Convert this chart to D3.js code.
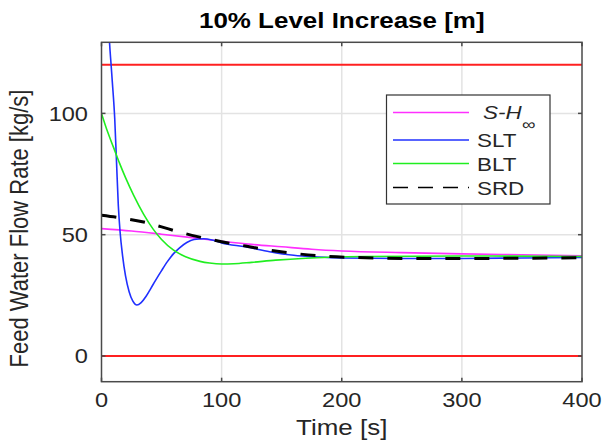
<!DOCTYPE html>
<html>
<head>
<meta charset="utf-8">
<script src="https://cdn.jsdelivr.net/npm/d3@7"></script>
<style>
  html, body { margin: 0; padding: 0; background: #fff; }
  svg { display: block; font-family: "Liberation Sans", Arial, sans-serif; }
</style>
</head>
<body>
<svg class="canvas" width="609" height="444"></svg>
<script>
"use strict";

// values: [time s, flow kg/s]
const shInf = [[0, 52.5], [25, 51.5], [50, 50.2], [75, 48.8], [100, 47.3], [125, 46], [150, 45],
  [175, 44], [200, 43.3], [250, 42.6], [300, 42.1], [350, 41.7], [400, 41.3]];
const slt = [[0, 260], [5, 150], [6.6, 130], [8, 120], [9, 113], [11, 98], [12.5, 80], [14, 62],
  [15.5, 51], [17.5, 41.5], [20, 33], [23, 26.5], [26, 22.7], [29.5, 21], [33, 22], [37, 24.5],
  [41, 27.8], [45, 31.2], [50, 35.2], [55, 39], [60, 42.2], [65, 44.6], [71, 46.8], [77, 48],
  [85, 48.3], [92, 47.8], [100, 46.6], [120, 45], [140, 43], [160, 41.5], [180, 40.8],
  [200, 40.4], [250, 40.2], [300, 40.2], [350, 40.4], [400, 40.6]];
const blt = [[0, 100], [5, 92.5], [10, 86], [15, 79.5], [20, 73.5], [27, 66], [35, 58.5],
  [43, 52.3], [50, 48], [60, 43.6], [70, 40.9], [82, 39], [90, 38.3], [100, 37.9], [110, 38],
  [125, 38.6], [145, 39.5], [170, 40.3], [190, 40.7], [220, 41], [300, 41.2], [400, 41]];
const srd = [[0, 58], [20, 56.6], [37, 55], [50, 53.2], [64, 51.2], [80, 49.2], [100, 47.1],
  [120, 45.3], [139, 43.7], [160, 42.3], [189, 41], [220, 40.5], [260, 40.2], [300, 40.2],
  [350, 40.3], [400, 40.5]];
const limits = [120, 0];
const xTicks = [0, 100, 200, 300, 400];
const yTicks = [0, 50, 100];
const seriesNames = ["SLT", "BLT", "SRD"];

const SX = 1.18; // the reference text is a little wider than tall

function stretchText(g, x, y, str, size, anchor) {
  return g.append("text")
    .attr("transform", `translate(${x},${y}) scale(${SX},1)`)
    .attr("text-anchor", anchor || "start")
    .attr("font-size", size)
    .attr("fill", "#262626")
    .text(str);
}

function render() {
  const svg = d3.select(".canvas");
  const x = d3.scaleLinear().domain([0, 400]).range([101.5, 582]);
  const y = d3.scaleLinear().domain([-10.6, 129.3]).range([381.7, 42.3]);
  const [x0, x1] = x.range();
  const [yb, yt] = y.range();

  svg.append("defs").append("clipPath").attr("id", "plot")
    .append("rect").attr("x", x0).attr("y", yt).attr("width", x1 - x0).attr("height", yb - yt);

  // grid
  const grid = svg.append("g").attr("stroke", "#e3e3e3").attr("stroke-width", 1.5);
  grid.selectAll(".gx").data(xTicks.slice(1, -1)).enter().append("line")
    .attr("x1", d => x(d)).attr("x2", d => x(d)).attr("y1", yt).attr("y2", yb);
  grid.selectAll(".gy").data(yTicks).enter().append("line")
    .attr("x1", x0).attr("x2", x1).attr("y1", d => y(d)).attr("y2", d => y(d));

  const plot = svg.append("g").attr("clip-path", "url(#plot)");
  const line = d3.line().x(d => x(d[0])).y(d => y(d[1])).curve(d3.curveMonotoneX);

  plot.selectAll(".limit").data(limits).enter().append("line")
    .attr("x1", x0).attr("x2", x1).attr("y1", d => y(d)).attr("y2", d => y(d))
    .attr("stroke", "#ff2020").attr("stroke-width", 2);

  plot.append("path").datum(shInf).attr("d", line)
    .attr("fill", "none").attr("stroke", "#ff30ff").attr("stroke-width", 1.6);
  plot.append("path").datum(slt).attr("d", line)
    .attr("fill", "none").attr("stroke", "#2030ff").attr("stroke-width", 1.6);
  plot.append("path").datum(blt).attr("d", line)
    .attr("fill", "none").attr("stroke", "#20ee20").attr("stroke-width", 1.6);
  plot.append("path").datum(srd).attr("d", line)
    .attr("fill", "none").attr("stroke", "#000").attr("stroke-width", 3)
    .attr("stroke-dasharray", "15,14");

  // axes box with inward ticks
  const ax = svg.append("g").attr("stroke", "#4a4a4a").attr("stroke-width", 1.5);
  ax.append("rect").attr("x", x0).attr("y", yt).attr("width", x1 - x0).attr("height", yb - yt)
    .attr("fill", "none");
  xTicks.forEach(t => {
    ax.append("line").attr("x1", x(t)).attr("x2", x(t)).attr("y1", yb).attr("y2", yb - 4);
    ax.append("line").attr("x1", x(t)).attr("x2", x(t)).attr("y1", yt).attr("y2", yt + 4);
  });
  yTicks.forEach(t => {
    ax.append("line").attr("x1", x0).attr("x2", x0 + 4).attr("y1", y(t)).attr("y2", y(t));
    ax.append("line").attr("x1", x1).attr("x2", x1 - 4).attr("y1", y(t)).attr("y2", y(t));
  });

  // tick labels
  xTicks.forEach(t => stretchText(svg, x(t), 407, String(t), 20, "middle"));
  yTicks.forEach(t => stretchText(svg, 88, y(t) + 7.5, String(t), 20, "end"));

  // titles
  stretchText(svg, (x0 + x1) / 2, 27.5, "10% Level Increase [m]", 22, "middle")
    .attr("font-weight", "bold").attr("fill", "#000");
  stretchText(svg, (x0 + x1) / 2, 435, "Time [s]", 22, "middle");
  svg.append("text")
    .attr("transform", `translate(28,228.5) scale(${SX},1) rotate(-90)`)
    .attr("text-anchor", "middle").attr("font-size", 22).attr("fill", "#262626")
    .text("Feed Water Flow Rate [kg/s]");

  // legend
  const lg = svg.append("g");
  lg.append("rect").attr("x", 386.5).attr("y", 95).attr("width", 163.5).attr("height", 109)
    .attr("fill", "#fff").attr("stroke", "#333").attr("stroke-width", 1.2);
  const entries = [
    { color: "#ff30ff", y: 112.5, w: 1.6, dash: null },
    { color: "#2030ff", y: 140, w: 1.6, dash: null },
    { color: "#20ee20", y: 163.5, w: 1.6, dash: null },
    { color: "#000", y: 187.5, w: 1.6, dash: "15,10" },
  ];
  entries.forEach(e => {
    lg.append("line").attr("x1", 393).attr("x2", 469).attr("y1", e.y).attr("y2", e.y)
      .attr("stroke", e.color).attr("stroke-width", e.w).attr("stroke-dasharray", e.dash);
  });
  stretchText(lg, 483, 119, "S-H", 19).attr("font-style", "italic");
  stretchText(lg, 522, 130, "\u221E", 16);
  seriesNames.forEach((n, i) => stretchText(lg, 477, entries[i + 1].y + 7, n, 19));
}

window.onload = render;
</script>
</body>
</html>
